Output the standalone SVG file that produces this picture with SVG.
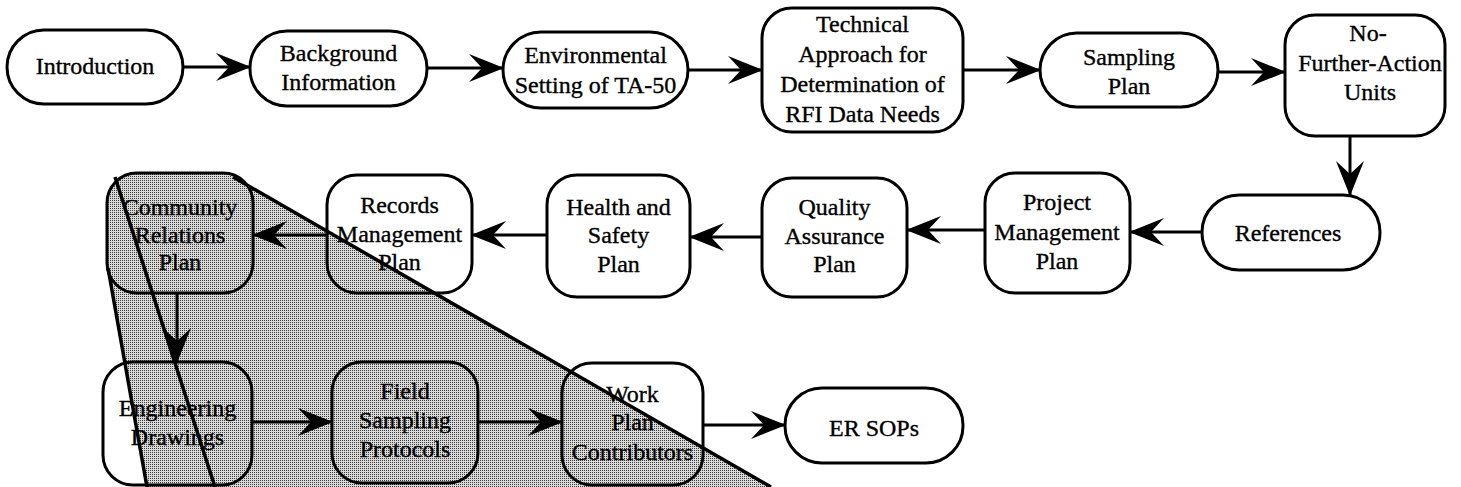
<svg xmlns="http://www.w3.org/2000/svg" width="1461" height="487" viewBox="0 0 1461 487">
<style>
.box{fill:none;stroke:#000;stroke-width:3}
.c{fill:none;stroke:#000;stroke-width:3}
.fold{fill:none;stroke:#000;stroke-width:3.5}
text{font-family:'Liberation Serif','Times New Roman',Times,serif;font-size:24px;fill:#000;stroke:#000;stroke-width:0.35;text-anchor:middle}
</style>
<defs>
<pattern id="dots" width="2" height="2" patternUnits="userSpaceOnUse">
<rect width="2" height="2" fill="#dadada"/>
<rect width="1" height="1" fill="#3a3a3a"/>
</pattern>
<marker id="ah" markerUnits="userSpaceOnUse" orient="auto" refX="0" refY="0" viewBox="-36 -15 38 30" markerWidth="38" markerHeight="30">
<path d="M1,0 L-34,-14 L-21,0 L-34,14 Z" fill="#000"/>
</marker>
</defs>
<rect width="1461" height="487" fill="#fff"/>
<g id="shade">
<path d="M108,268 L108,203 Q108,173 138,173 L222,173 Q232,174 236,180 L771,487 L147,487 Z" fill="url(#dots)"/>
<path class="fold" d="M233,177 L771,487"/>
<path class="fold" d="M108,268 L147,487"/>
<path class="fold" d="M115,177 L215,487"/>
</g>
<g id="introduction"><rect class="box" x="7" y="30" width="176" height="74" rx="37"/><text x="95" y="74">Introduction</text></g>
<g id="background"><rect class="box" x="250" y="31" width="177" height="75" rx="37"/><text x="338.5" y="61">Background</text><text x="338.5" y="90">Information</text></g>
<g id="environmental"><rect class="box" x="503" y="32" width="185" height="76" rx="38"/><text x="595.5" y="63">Environmental</text><text x="595.5" y="93">Setting of TA-50</text></g>
<g id="technical"><rect class="box" x="762" y="8" width="201" height="124" rx="30"/><text x="862.5" y="32">Technical</text><text x="862.5" y="62">Approach for</text><text x="862.5" y="92">Determination of</text><text x="862.5" y="122">RFI Data Needs</text></g>
<g id="sampling"><rect class="box" x="1040" y="33" width="178" height="74" rx="37"/><text x="1129" y="65">Sampling</text><text x="1129" y="94">Plan</text></g>
<g id="nfa"><rect class="box" x="1285" y="15" width="160" height="121" rx="30"/><text x="1368" y="41">No-</text><text x="1370" y="71">Further-Action</text><text x="1370" y="100">Units</text></g>
<g id="references"><rect class="box" x="1202" y="195" width="178" height="75" rx="37"/><text x="1288" y="241">References</text></g>
<g id="project"><rect class="box" x="985" y="173" width="145" height="120" rx="30"/><text x="1057" y="210">Project</text><text x="1057" y="240">Management</text><text x="1057" y="269">Plan</text></g>
<g id="quality"><rect class="box" x="762" y="178" width="145" height="119" rx="30"/><text x="834.5" y="215">Quality</text><text x="834.5" y="244">Assurance</text><text x="834.5" y="272">Plan</text></g>
<g id="health"><rect class="box" x="547" y="175" width="143" height="122" rx="30"/><text x="618.5" y="215">Health and</text><text x="618.5" y="243">Safety</text><text x="618.5" y="272">Plan</text></g>
<g id="records"><rect class="box" x="327" y="175" width="145" height="118" rx="30"/><text x="399.5" y="213">Records</text><text x="399.5" y="242">Management</text><text x="399.5" y="270">Plan</text></g>
<g id="community"><rect class="box" x="107" y="173" width="146" height="120" rx="30"/><text x="180" y="215">Community</text><text x="180" y="243">Relations</text><text x="180" y="270">Plan</text></g>
<g id="engineering"><rect class="box" x="103" y="362" width="149" height="123" rx="30"/><text x="177.5" y="416">Engineering</text><text x="177.5" y="445">Drawings</text></g>
<g id="field"><rect class="box" x="332" y="362" width="146" height="121" rx="30"/><text x="405" y="399">Field</text><text x="405" y="428">Sampling</text><text x="405" y="457">Protocols</text></g>
<g id="work"><rect class="box" x="562" y="363" width="141" height="122" rx="30"/><text x="632.5" y="402">Work</text><text x="632.5" y="430">Plan</text><text x="632.5" y="460">Contributors</text></g>
<g id="ersops"><rect class="box" x="785" y="388" width="178" height="75" rx="37"/><text x="874" y="436">ER SOPs</text></g>
<g id="connectors">
<path class="c" d="M183,67 H250" marker-end="url(#ah)"/>
<path class="c" d="M427,68 H503" marker-end="url(#ah)"/>
<path class="c" d="M688,70 H762" marker-end="url(#ah)"/>
<path class="c" d="M963,70 H1040" marker-end="url(#ah)"/>
<path class="c" d="M1218,72 H1285" marker-end="url(#ah)"/>
<path class="c" d="M1350,136 V195" marker-end="url(#ah)"/>
<path class="c" d="M1202,232 H1130" marker-end="url(#ah)"/>
<path class="c" d="M985,230 H907" marker-end="url(#ah)"/>
<path class="c" d="M762,237 H690" marker-end="url(#ah)"/>
<path class="c" d="M547,235 H472" marker-end="url(#ah)"/>
<path class="c" d="M327,235 H253" marker-end="url(#ah)"/>
<path class="c" d="M177,293 V362" marker-end="url(#ah)"/>
<path class="c" d="M252,422 H332" marker-end="url(#ah)"/>
<path class="c" d="M478,422 H562" marker-end="url(#ah)"/>
<path class="c" d="M703,425 H785" marker-end="url(#ah)"/>
</g>
</svg>
